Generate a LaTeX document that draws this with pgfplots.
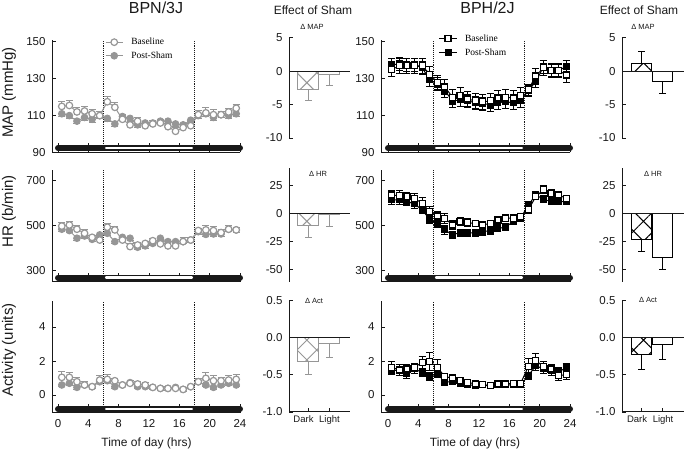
\documentclass[border=0pt]{standalone}
\usepackage{fontspec}
\setmainfont{Liberation Sans}
\newfontfamily\legfont{Liberation Serif}
\usepackage{pgfplots}
\pgfplotsset{compat=1.18}
\usepackage{pgfplotstable}
\usetikzlibrary{patterns.meta}

\definecolor{bpn}{RGB}{150,150,150}
\definecolor{ax}{RGB}{25,25,25}

\pgfplotstableread{
t base be post pe
0.5 115 2.5 111 1.5
1.5 115.5 2.5 110 1.5
2.5 112 2.5 107 1.5
3.5 112.5 2.5 109 1.5
4.5 111 2.5 108 1.5
5.5 110 2.5 110 1.5
6.5 117.5 3 108.5 1.5
7.5 114.5 2.5 105.5 1.5
8.5 108 2.5 109.5 1.5
9.5 105 2.5 108.5 1.5
10.5 107 2 105 1.5
11.5 104.5 2 106 1.5
12.5 105.5 2 106 1.5
13.5 106 2 107 1.5
14.5 104 2 107 1.5
15.5 101.5 2 105.5 1.5
16.5 103.5 2 105 1.5
17.5 104.5 2.5 107.5 1.5
18.5 110.5 2.5 110 1.5
19.5 111.5 3 111 1.5
20.5 110.5 3 109 1.5
21.5 110.5 2 110.5 1.5
22.5 112 2 110 1.5
23.5 114 2 111 1.5
}\bpnmap
\pgfplotstableread{
t base be post pe
0.5 135 4 137.5 3.5
1.5 137 4 138 3.5
2.5 137 4 137.5 3.5
3.5 137 4 137.5 3.5
4.5 137 4 136 3.5
5.5 132.5 4 129.5 3.5
6.5 128 4 127 3.5
7.5 125.5 4 123.5 3.5
8.5 120 4 118 3.5
9.5 121 4 118.5 3.5
10.5 119 4 118 3.5
11.5 118 4 117 3.5
12.5 117.5 4 116.5 3.5
13.5 118 4 116 3.5
14.5 119.5 4 117 3.5
15.5 120 4 117.5 3.5
16.5 119.5 4 117 3.5
17.5 121 4 118 3.5
18.5 124 3 123.5 3
19.5 131.5 4 128.5 3.5
20.5 136 4 136.5 3.5
21.5 134.5 4 134.5 3.5
22.5 134.5 4 134.5 3.5
23.5 132 4 136.5 3.5
}\bphmap
\pgfplotstableread{
t base be post pe
0.5 498 15 484 10
1.5 503 15 478 10
2.5 484 18 444 10
3.5 466 15 454 10
4.5 448 10 439 10
5.5 436 12 459 10
6.5 493 18 466 10
7.5 481 15 429 10
8.5 436 15 448 10
9.5 407 12 444 10
10.5 414 10 404 10
11.5 421 10 410 10
12.5 433 10 421 10
13.5 419 12 444 10
14.5 410 12 429 10
15.5 410 15 429 10
16.5 429 20 429 10
17.5 436 12 436 10
18.5 478 10 473 10
19.5 481 20 461 10
20.5 478 20 463 10
21.5 469 12 463 10
22.5 484 15 484 10
23.5 481 12 481 10
}\bpnhr
\pgfplotstableread{
t base be post pe
0.5 636 22 614 18
1.5 632 25 614 18
2.5 629 20 607 18
3.5 621 20 596 18
4.5 599 25 570 18
5.5 562 25 528 18
6.5 543 22 510 18
7.5 533 22 481 18
8.5 503 18 459 15
9.5 518 18 469 15
10.5 513 18 469 15
11.5 510 15 466 15
12.5 503 15 473 15
13.5 510 15 478 15
14.5 525 15 488 15
15.5 533 15 493 15
16.5 533 15 518 15
17.5 540 15 533 15
18.5 570 15 592 15
19.5 629 15 636 15
20.5 659 18 617 15
21.5 644 18 607 15
22.5 636 15 607 15
23.5 621 15 607 15
}\bphhr
\pgfplotstableread{
t base be post pe
0.5 1.04 0.35 0.59 0.1
1.5 1.04 0.3 0.69 0.1
2.5 0.78 0.25 0.45 0.1
3.5 0.59 0.2 0.59 0.1
4.5 0.49 0.15 0.49 0.1
5.5 0.88 0.3 0.78 0.1
6.5 0.92 0.3 0.84 0.1
7.5 0.84 0.15 0.49 0.1
8.5 0.59 0.1 0.59 0.1
9.5 0.69 0.15 0.73 0.1
10.5 0.65 0.15 0.49 0.1
11.5 0.59 0.15 0.49 0.1
12.5 0.45 0.1 0.45 0.1
13.5 0.39 0.1 0.39 0.1
14.5 0.39 0.1 0.39 0.1
15.5 0.39 0.1 0.45 0.1
16.5 0.33 0.1 0.33 0.1
17.5 0.49 0.1 0.49 0.1
18.5 0.78 0.2 0.78 0.1
19.5 0.98 0.35 0.59 0.1
20.5 0.84 0.3 0.45 0.1
21.5 0.84 0.2 0.59 0.1
22.5 0.88 0.3 0.69 0.1
23.5 0.92 0.3 0.59 0.1
}\bpnact
\pgfplotstableread{
t base be post pe
0.5 1.63 0.35 1.47 0.25
1.5 1.47 0.3 1.43 0.25
2.5 1.53 0.25 1.24 0.25
3.5 1.63 0.25 1.53 0.25
4.5 1.92 0.35 1.33 0.25
5.5 1.98 0.55 1.08 0.25
6.5 1.63 0.45 1.27 0.25
7.5 1.08 0.15 0.75 0.15
8.5 1.0 0.2 0.8 0.15
9.5 0.84 0.15 0.69 0.1
10.5 0.75 0.1 0.61 0.1
11.5 0.65 0.1 0.55 0.1
12.5 0.61 0.1 0.59 0.1
13.5 0.55 0.1 0.55 0.1
14.5 0.65 0.1 0.59 0.1
15.5 0.65 0.1 0.59 0.1
16.5 0.69 0.1 0.61 0.1
17.5 0.69 0.1 0.59 0.1
18.5 1.67 0.5 1.14 0.2
19.5 2.02 0.4 1.73 0.3
20.5 1.67 0.3 1.53 0.25
21.5 1.53 0.25 1.43 0.25
22.5 1.14 0.3 1.37 0.25
23.5 1.2 0.3 1.6 0.25
}\bphact

\pgfplotsset{
  myax/.style={scale only axis, clip=false, anchor=south west,
    axis lines=left, axis line style={-, line width=1pt, draw=ax},
    every outer x axis line/.append style={-}, every outer y axis line/.append style={-},
    tick align=inside, tick style={draw=ax, line width=0.8pt}, major tick length=4pt,
    ticklabel style={font=\fontsize{11.5}{12}\selectfont, text=ax},
    /pgf/number format/assume math mode=true,
    yticklabel style={xshift=-3pt}},
  timeax/.style={myax, width=188pt, xmin=-0.79, xmax=24, xtick={0,4,...,24},
    xtick style={/pgfplots/major tick length=9pt}},
  timeaxR/.style={myax, width=189pt, xmin=-0.92, xmax=24, xtick={0,4,...,24},
    xtick style={/pgfplots/major tick length=9pt}},
  bpnbase/.style={bpn, line width=1pt, mark=*, mark size=3.3pt,
    mark options={fill=white, draw=bpn, line width=1.2pt, solid},
    error bars/.cd, y dir=plus, y explicit, error bar style={bpn, line width=0.9pt},
    error mark options={rotate=90, mark size=3.5pt, draw=bpn, line width=0.9pt}},
  bpnpost/.style={bpn, line width=1pt, mark=*, mark size=3.3pt,
    mark options={fill=bpn, draw=bpn, solid},
    error bars/.cd, y dir=minus, y explicit, error bar style={bpn, line width=0.9pt},
    error mark options={rotate=90, mark size=3.5pt, draw=bpn, line width=0.9pt}},
  bphbase/.style={black, line width=1pt, mark=square*, mark size=3pt,
    mark options={fill=white, draw=black, line width=1.2pt, solid},
    error bars/.cd, y dir=both, y explicit, error bar style={black, line width=0.9pt},
    error mark options={rotate=90, mark size=3.5pt, draw=black, line width=0.9pt}},
  bphpost/.style={black, line width=1pt, mark=square*, mark size=3pt,
    mark options={fill=black, draw=black, solid},
    error bars/.cd, y dir=both, y explicit, error bar style={black, line width=0.9pt},
    error mark options={rotate=90, mark size=3.5pt, draw=black, line width=0.9pt}},
  darkbar/.style={forget plot, ax, line width=6pt, line cap=round},
  lightbar/.style={forget plot, white, line width=2.7pt, line cap=round},
  dotv/.style={forget plot, ax, densely dotted, line width=0.9pt},
  barax/.style={myax, xtick={0,1}},
  effbar/.style={ybar, bar width=20.5pt, bar shift=0pt, line width=1.1pt, draw=#1},
  errstyle/.style={error bars/.cd, y explicit, y dir=#1},
  legsty/.style={legend style={draw=none, fill=none, inner sep=0pt, row sep=1.5pt,
    font=\legfont\fontsize{9.5}{10}\selectfont, anchor=north west,
    /tikz/every odd column/.append style={column sep=6pt}}, legend cell align=left, reverse legend},
}

\begin{document}
\begin{tikzpicture}[x=1pt,y=1pt]
\path[use as bounding box] (0pt,0pt) rectangle (685pt,449pt);

% ================= BPN/3J time panels =================
\begin{axis}[timeax, at={(52pt,296.5pt)}, height=112.5pt, ymin=90, ymax=151,
  ytick={90,110,130,150}, xticklabels={}, legsty,
  legend style={at={(axis cs:6.2,153.2)}}]
\addplot[darkbar] coordinates {(0,92.4)(24,92.4)};
\addplot[lightbar] coordinates {(6.35,92.4)(17.65,92.4)};
\addplot[dotv] coordinates {(6,92.4)(6,151)};
\addplot[dotv] coordinates {(18,92.4)(18,151)};
\addplot[bpnpost] table[x=t, y=post, y error=pe] {\bpnmap};
\addlegendentry{Post-Sham}
\addplot[bpnbase] table[x=t, y=base, y error=be] {\bpnmap};
\addlegendentry{Baseline}
\end{axis}

\begin{axis}[timeax, at={(52pt,167.3pt)}, height=111.7pt, ymin=251, ymax=747,
  ytick={300,500,700}, xticklabels={}]
\addplot[darkbar] coordinates {(0,268.8)(24,268.8)};
\addplot[lightbar] coordinates {(6.35,268.8)(17.65,268.8)};
\addplot[dotv] coordinates {(6,268.8)(6,747)};
\addplot[dotv] coordinates {(18,268.8)(18,747)};
\addplot[bpnpost] table[x=t, y=post, y error=pe] {\bpnhr};
\addplot[bpnbase] table[x=t, y=base, y error=be] {\bpnhr};
\end{axis}

\begin{axis}[timeax, at={(52pt,36.3pt)}, height=111.2pt, ymin=-1.04, ymax=5.5,
  ytick={0,2,4}, xticklabel style={yshift=-3pt}]
\addplot[darkbar] coordinates {(0,-0.82)(24,-0.82)};
\addplot[lightbar] coordinates {(6.35,-0.82)(17.65,-0.82)};
\addplot[dotv] coordinates {(6,-0.82)(6,5.5)};
\addplot[dotv] coordinates {(18,-0.82)(18,5.5)};
\addplot[bpnpost] table[x=t, y=post, y error=pe] {\bpnact};
\addplot[bpnbase] table[x=t, y=base, y error=be] {\bpnact};
\end{axis}

% ================= BPH/2J time panels =================
\begin{axis}[timeaxR, at={(381pt,296.5pt)}, height=112.5pt, ymin=90, ymax=151,
  ytick={90,110,130,150}, xticklabels={}, legsty,
  legend style={at={(axis cs:6.7,155)}}]
\addplot[darkbar] coordinates {(0,92.4)(24,92.4)};
\addplot[lightbar] coordinates {(6.35,92.4)(17.65,92.4)};
\addplot[dotv] coordinates {(6,92.4)(6,151)};
\addplot[dotv] coordinates {(18,92.4)(18,151)};
\addplot[bphpost] table[x=t, y=post, y error=pe] {\bphmap};
\addlegendentry{Post-Sham}
\addplot[bphbase] table[x=t, y=base, y error=be] {\bphmap};
\addlegendentry{Baseline}
\end{axis}

\begin{axis}[timeaxR, at={(381pt,167.3pt)}, height=111.7pt, ymin=251, ymax=747,
  ytick={300,500,700}, xticklabels={}]
\addplot[darkbar] coordinates {(0,268.8)(24,268.8)};
\addplot[lightbar] coordinates {(6.35,268.8)(17.65,268.8)};
\addplot[dotv] coordinates {(6,268.8)(6,747)};
\addplot[dotv] coordinates {(18,268.8)(18,747)};
\addplot[bphpost] table[x=t, y=post, y error=pe] {\bphhr};
\addplot[bphbase] table[x=t, y=base, y error=be] {\bphhr};
\end{axis}

\begin{axis}[timeaxR, at={(381pt,36.3pt)}, height=111.2pt, ymin=-1.04, ymax=5.5,
  ytick={0,2,4}, xticklabel style={yshift=-3pt}]
\addplot[darkbar] coordinates {(0,-0.82)(24,-0.82)};
\addplot[lightbar] coordinates {(6.35,-0.82)(17.65,-0.82)};
\addplot[dotv] coordinates {(6,-0.82)(6,5.5)};
\addplot[dotv] coordinates {(18,-0.82)(18,5.5)};
\addplot[bphpost] table[x=t, y=post, y error=pe] {\bphact};
\addplot[bphbase] table[x=t, y=base, y error=be] {\bphact};
\end{axis}

% ================= Effect of Sham: BPN =================
\begin{axis}[barax, at={(289pt,311pt)}, width=61pt, height=100.3pt, xmin=-0.905, xmax=2.0,
  ymin=-10, ymax=5, ytick={5,0,-5,-10}, axis x line=none]
\addplot[effbar=bpn, pattern={Hatch[angle=45,distance=14pt,line width=1pt]}, pattern color=bpn,
  errstyle=minus, error bar style={bpn, line width=1pt},
  error mark options={rotate=90, mark size=3.5pt, draw=bpn, line width=1pt}]
  coordinates {(0,-2.8) +- (0,1.6)};
\addplot[effbar=bpn, errstyle=minus, error bar style={bpn, line width=1pt},
  error mark options={rotate=90, mark size=3.5pt, draw=bpn, line width=1pt}]
  coordinates {(1,-0.5) +- (0,1.7)};
\draw[ax, line width=1pt] (axis cs:-0.905,0) -- (axis cs:2.0,0);
\end{axis}

\begin{axis}[barax, at={(289pt,167.3pt)}, width=61pt, height=113.4pt, xmin=-0.905, xmax=2.0,
  ymin=-61, ymax=40, ytick={25,0,-25,-50}, axis x line=none]
\addplot[effbar=bpn, pattern={Hatch[angle=45,distance=14pt,line width=1pt]}, pattern color=bpn,
  errstyle=minus, error bar style={bpn, line width=1pt},
  error mark options={rotate=90, mark size=3.5pt, draw=bpn, line width=1pt}]
  coordinates {(0,-11) +- (0,10.4)};
\addplot[effbar=bpn, errstyle=minus, error bar style={bpn, line width=1pt},
  error mark options={rotate=90, mark size=3.5pt, draw=bpn, line width=1pt}]
  coordinates {(1,-1.2) +- (0,10.8)};
\draw[ax, line width=1pt] (axis cs:-0.905,0) -- (axis cs:2.0,0);
\end{axis}

\begin{axis}[barax, at={(289pt,37pt)}, width=61pt, height=111.3pt, xmin=-0.905, xmax=2.0,
  ymin=-1, ymax=0.5, ytick={0.5,0,-0.5,-1}, xticklabels={Dark\hspace*{9pt},\hspace*{1pt}Light},
  yticklabel style={/pgf/number format/.cd, fixed, fixed zerofill, precision=1},
  xticklabel style={font=\fontsize{9.5}{10}\selectfont}]
\addplot[effbar=bpn, pattern={Hatch[angle=45,distance=14pt,line width=1pt]}, pattern color=bpn,
  errstyle=minus, error bar style={bpn, line width=1pt},
  error mark options={rotate=90, mark size=3.5pt, draw=bpn, line width=1pt}]
  coordinates {(0,-0.32) +- (0,0.18)};
\addplot[effbar=bpn, errstyle=minus, error bar style={bpn, line width=1pt},
  error mark options={rotate=90, mark size=3.5pt, draw=bpn, line width=1pt}]
  coordinates {(1,-0.08) +- (0,0.19)};
\draw[ax, line width=1pt] (axis cs:-0.905,0) -- (axis cs:2.0,0);
\end{axis}

% ================= Effect of Sham: BPH =================
\begin{axis}[barax, at={(622pt,311pt)}, width=62pt, height=100.3pt, xmin=-0.93, xmax=2.02,
  ymin=-10, ymax=5, ytick={5,0,-5,-10}, axis x line=none]
\addplot[effbar=black, pattern={Hatch[angle=45,distance=14pt,line width=1pt]}, pattern color=black,
  errstyle=plus, error bar style={black, line width=1pt},
  error mark options={rotate=90, mark size=3.5pt, draw=black, line width=1pt}]
  coordinates {(0,1.1) +- (0,1.9)};
\addplot[effbar=black, errstyle=minus, error bar style={black, line width=1pt},
  error mark options={rotate=90, mark size=3.5pt, draw=black, line width=1pt}]
  coordinates {(1,-1.55) +- (0,1.85)};
\draw[ax, line width=1pt] (axis cs:-0.93,0) -- (axis cs:2.02,0);
\end{axis}

\begin{axis}[barax, at={(622pt,167.3pt)}, width=62pt, height=113.4pt, xmin=-0.93, xmax=2.02,
  ymin=-61, ymax=40, ytick={25,0,-25,-50}, axis x line=none]
\addplot[effbar=black, pattern={Hatch[angle=45,distance=14pt,line width=1pt]}, pattern color=black,
  errstyle=minus, error bar style={black, line width=1pt},
  error mark options={rotate=90, mark size=3.5pt, draw=black, line width=1pt}]
  coordinates {(0,-23.2) +- (0,10.8)};
\addplot[effbar=black, errstyle=minus, error bar style={black, line width=1pt},
  error mark options={rotate=90, mark size=3.5pt, draw=black, line width=1pt}]
  coordinates {(1,-39.3) +- (0,11)};
\draw[ax, line width=1pt] (axis cs:-0.93,0) -- (axis cs:2.02,0);
\end{axis}

\begin{axis}[barax, at={(622pt,37pt)}, width=62pt, height=111.3pt, xmin=-0.93, xmax=2.02,
  ymin=-1, ymax=0.5, ytick={0.5,0,-0.5,-1}, xticklabels={Dark\hspace*{9pt},\hspace*{1pt}Light},
  yticklabel style={/pgf/number format/.cd, fixed, fixed zerofill, precision=1},
  xticklabel style={font=\fontsize{9.5}{10}\selectfont}]
\addplot[effbar=black, pattern={Hatch[angle=45,distance=14pt,line width=1pt]}, pattern color=black,
  errstyle=minus, error bar style={black, line width=1pt},
  error mark options={rotate=90, mark size=3.5pt, draw=black, line width=1pt}]
  coordinates {(0,-0.22) +- (0,0.21)};
\addplot[effbar=black, errstyle=minus, error bar style={black, line width=1pt},
  error mark options={rotate=90, mark size=3.5pt, draw=black, line width=1pt}]
  coordinates {(1,-0.09) +- (0,0.2)};
\draw[ax, line width=1pt] (axis cs:-0.93,0) -- (axis cs:2.02,0);
\end{axis}

% ================= titles and labels =================
\node[font=\fontsize{16}{18}\selectfont, text=ax] at (156pt,441pt) {BPN/3J};
\node[font=\fontsize{16}{18}\selectfont, text=ax] at (487.5pt,441pt) {BPH/2J};
\node[font=\fontsize{12}{14}\selectfont, text=ax] at (313pt,439pt) {Effect of Sham};
\node[font=\fontsize{12}{14}\selectfont, text=ax] at (639pt,439pt) {Effect of Sham};
\node[font=\fontsize{7.5}{8}\selectfont, text=ax] at (312pt,422pt) {Δ MAP};
\node[font=\fontsize{7.5}{8}\selectfont, text=ax] at (318pt,275pt) {Δ HR};
\node[font=\fontsize{7.5}{8}\selectfont, text=ax] at (314pt,148pt) {Δ Act};
\node[font=\fontsize{7.5}{8}\selectfont, text=ax] at (643pt,422pt) {Δ MAP};
\node[font=\fontsize{7.5}{8}\selectfont, text=ax] at (653pt,275pt) {Δ HR};
\node[font=\fontsize{7.5}{8}\selectfont, text=ax] at (648pt,149pt) {Δ Act};
\node[rotate=90, font=\fontsize{15}{16}\selectfont, text=ax] at (9pt,356.5pt) {MAP (mmHg)};
\node[rotate=90, font=\fontsize{15}{16}\selectfont, text=ax] at (9pt,237.5pt) {HR (b/min)};
\node[rotate=90, font=\fontsize{15}{16}\selectfont, text=ax] at (9pt,99pt) {Activity (units)};
\node[font=\fontsize{12}{14}\selectfont, text=ax] at (146.5pt,6pt) {Time of day (hrs)};
\node[font=\fontsize{12}{14}\selectfont, text=ax] at (475pt,6pt) {Time of day (hrs)};
\end{tikzpicture}
\end{document}
